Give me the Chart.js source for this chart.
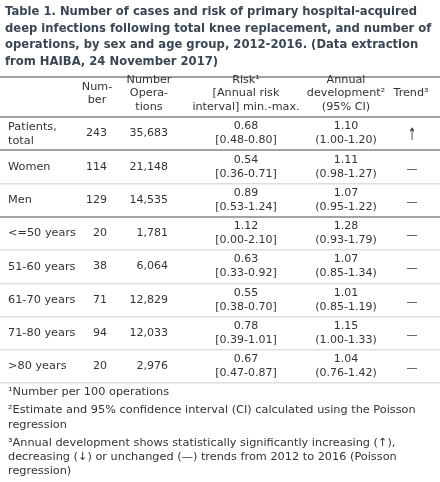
<!DOCTYPE html>
<html>
<head>
<meta charset="utf-8">
<title>Table 1 - deep infections after knee replacement</title>
<script src="https://cdn.jsdelivr.net/npm/chart.js@4.4.0/dist/chart.umd.min.js"></script>
<style>
    html, body { margin: 0; padding: 0; background: #fff; }
    #wrap { width: 440px; height: 482px; }
</style>
</head>
<body>
<div id="wrap"><canvas id="table-chart" width="440" height="482"></canvas></div>
<script>
// 表格資料
const titleLines = [
    'Table 1. Number of cases and risk of primary hospital-acquired',
    'deep infections following total knee replacement, and number of',
    'operations, by sex and age group, 2012-2016. (Data extraction',
    'from HAIBA, 24 November 2017)'
];
const headerLines = [
    [],
    ['Num-', 'ber'],
    ['Number', 'Opera-', 'tions'],
    ['Risk¹', '[Annual risk', 'interval] min.-max.'],
    ['Annual', 'development²', '(95% CI)'],
    ['Trend³']
];
const rowLabels = ['Patients, total', 'Women', 'Men', '<=50 years', '51-60 years', '61-70 years', '71-80 years', '>80 years'];
const cases = [243, 114, 129, 20, 38, 71, 94, 20];
const operations = [35683, 21148, 14535, 1781, 6064, 12829, 12033, 2976];
const risk = [0.68, 0.54, 0.89, 1.12, 0.63, 0.55, 0.78, 0.67];
const riskMin = [0.48, 0.36, 0.53, 0.00, 0.33, 0.38, 0.39, 0.47];
const riskMax = [0.80, 0.71, 1.24, 2.10, 0.92, 0.70, 1.01, 0.87];
const annualDev = [1.10, 1.11, 1.07, 1.28, 1.07, 1.01, 1.15, 1.04];
const ciLow = [1.00, 0.98, 0.95, 0.93, 0.85, 0.85, 1.00, 0.76];
const ciHigh = [1.20, 1.27, 1.22, 1.79, 1.34, 1.19, 1.33, 1.42];
const trend = ['↑', '—', '—', '—', '—', '—', '—', '—'];
const footnotes = [
    ['¹Number per 100 operations'],
    ['²Estimate and 95% confidence interval (CI) calculated using the Poisson', 'regression'],
    ['³Annual development shows statistically significantly increasing (↑),', 'decreasing (↓) or unchanged (—) trends from 2012 to 2016 (Poisson', 'regression)']
];

// 樣式
const FONT = "'DejaVu Sans', Verdana, sans-serif";
const textFont = `11.3px ${FONT}`;
const headFont = `11.2px ${FONT}`;
const numFont = `11px ${FONT}`;
const titleFont = `bold 11.6px ${FONT}`;
const arrowFont = `17px ${FONT}`;
const textColor = '#333333';
const titleColor = '#3b4653';
const lineH = 14;
// 欄位位置 (x: 資料錨點, hx: 標題中心)
const columns = [
    { x: 8,   hx: 8,   align: 'left',   font: textFont },
    { x: 107, hx: 97,  align: 'right',  font: numFont },
    { x: 168, hx: 149, align: 'right',  font: numFont },
    { x: 246, hx: 246, align: 'center', font: numFont },
    { x: 346, hx: 346, align: 'center', font: numFont },
    { x: 412, hx: 411, align: 'center', font: numFont }
];
const strongRules = [0, 1, 3, 8];

// 文字換行
const measureCtx = document.createElement('canvas').getContext('2d');
function wrapText(text, maxWidth, font) {
    measureCtx.font = font;
    const words = text.split(' ');
    const lines = [];
    let cur = '';
    words.forEach(w => {
        const test = cur ? cur + ' ' + w : w;
        if (cur && measureCtx.measureText(test).width > maxWidth) {
            lines.push(cur);
            cur = w;
        } else {
            cur = test;
        }
    });
    if (cur) lines.push(cur);
    return lines;
}

const fmt2 = v => v.toFixed(2);
const cellText = [
    rowLabels.map(l => wrapText(l, 74, textFont)),
    cases.map(v => [String(v)]),
    operations.map(v => [v.toLocaleString('en-US')]),
    risk.map((v, i) => [fmt2(v), `[${fmt2(riskMin[i])}-${fmt2(riskMax[i])}]`]),
    annualDev.map((v, i) => [fmt2(v), `(${fmt2(ciLow[i])}-${fmt2(ciHigh[i])})`]),
    trend.map(t => [t])
];

const datasets = columns.map((col, c) => ({
    label: 'col' + c,
    data: rowLabels.map(r => ({ x: col.x, y: r })),
    cellLines: cellText[c],
    cellAlign: col.align,
    cellFont: col.font,
    pointRadius: 0,
    showLine: false
}));

// 自訂繪製表格文字
const tablePlugin = {
    id: 'tableText',
    beforeDraw(chart) {
        const ctx = chart.ctx;
        ctx.save();
        ctx.fillStyle = '#ffffff';
        ctx.fillRect(0, 0, chart.width, chart.height);
        ctx.restore();
    },
    afterDatasetsDraw(chart) {
        const ctx = chart.ctx;
        const area = chart.chartArea;
        const xScale = chart.scales.x;
        ctx.save();

        // 標題
        ctx.font = titleFont;
        ctx.fillStyle = titleColor;
        ctx.textAlign = 'left';
        ctx.textBaseline = 'alphabetic';
        titleLines.forEach((t, k) => ctx.fillText(t, 5, 15 + k * 16.7));

        // 上方橫線
        ctx.strokeStyle = '#a3a3a3';
        ctx.lineWidth = 2;
        ctx.beginPath();
        ctx.moveTo(area.left, area.top - 40);
        ctx.lineTo(area.right, area.top - 40);
        ctx.stroke();

        // 欄位標題
        ctx.font = headFont;
        ctx.fillStyle = textColor;
        ctx.textBaseline = 'middle';
        ctx.textAlign = 'center';
        const headMid = area.top - 23.5;
        headerLines.forEach((lines, c) => {
            const y0 = headMid - (lines.length - 1) * 13.5 / 2;
            lines.forEach((t, k) => ctx.fillText(t, xScale.getPixelForValue(columns[c].hx), y0 + k * 13.5));
        });

        // 儲存格
        chart.data.datasets.forEach((ds, di) => {
            const meta = chart.getDatasetMeta(di);
            ctx.textAlign = ds.cellAlign;
            meta.data.forEach((pt, i) => {
                const lines = ds.cellLines[i];
                const y0 = pt.y - (lines.length - 1) * lineH / 2;
                lines.forEach((t, k) => {
                    const ty = y0 + k * lineH;
                    if (t === '↑') {
                        // 細長箭頭
                        ctx.save();
                        ctx.font = arrowFont;
                        ctx.translate(pt.x, ty + 2);
                        ctx.scale(0.6, 1);
                        ctx.fillText(t, 0, 0);
                        ctx.restore();
                        return;
                    }
                    ctx.font = ds.cellFont;
                    ctx.fillText(t, pt.x, ty + (t === '—' ? 2 : 0));
                });
            });
        });

        // 註腳
        ctx.font = textFont;
        ctx.textAlign = 'left';
        let y = area.bottom + 9;
        footnotes.forEach(note => {
            note.forEach(t => {
                ctx.fillText(t, 8, y);
                y += 14.3;
            });
            y += 4;
        });
        ctx.restore();
    }
};

const chart = new Chart(document.getElementById('table-chart').getContext('2d'), {
    type: 'scatter',
    data: { labels: rowLabels, datasets: datasets },
    options: {
        responsive: false,
        animation: false,
        devicePixelRatio: 1,
        events: [],
        layout: { padding: { top: 117, bottom: 99, left: 0, right: 0 } },
        plugins: {
            legend: { display: false },
            tooltip: { enabled: false },
            title: { display: false }
        },
        scales: {
            x: { type: 'linear', min: 0, max: 440, display: false },
            y: {
                type: 'category',
                labels: rowLabels,
                offset: true,
                border: { display: false },
                ticks: { display: false },
                grid: {
                    offset: true,
                    drawTicks: false,
                    color: c => strongRules.includes(c.index) ? '#a3a3a3' : '#dedede',
                    lineWidth: c => strongRules.includes(c.index) ? 2 : 1.5
                }
            }
        }
    },
    plugins: [tablePlugin]
});
</script>
</body>
</html>
